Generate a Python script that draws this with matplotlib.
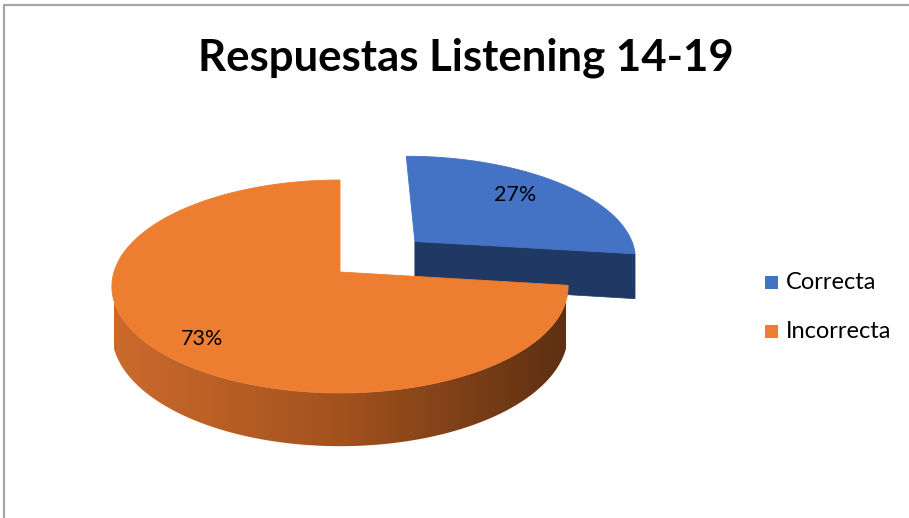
import numpy as np
import matplotlib
matplotlib.use("Agg")
import matplotlib.pyplot as plt
from matplotlib.patches import Polygon, Rectangle
from matplotlib.colors import LinearSegmentedColormap

# ---- data ----
title = "Respuestas Listening 14-19"
categories = ["Correcta", "Incorrecta"]
values = [27, 73]
top_colors = ["#4472C4", "#ED7D31"]
explode = [0.46, 0.0]
label_r = [0.68, 0.80]
label_shift = [(0, -6), (8, 7)]

# ---- layout (pixels) ----
W, H = 909, 518
cx, cy = 340.0, 272.0
rx, ry = 226.0, 104.5
k = 0.136        # perspective factor
depth = 46.0

fig = plt.figure(figsize=(W / 100, H / 100), dpi=100)
ax = fig.add_axes([0, 0, 1, 1])
ax.set_xlim(0, W)
ax.set_ylim(H, 0)
ax.axis("off")

# frame
ax.plot([4, 4, W + 5], [H + 5, 5, 5], color="#A6A6A6", lw=1.6, solid_capstyle="butt")


def proj(X, Y, Z=0.0):
    X = np.asarray(X, float)
    Y = np.asarray(Y, float)
    s = 1.0 / (1.0 + k * Y)
    return cx + rx * X * s, cy - ry * Y * s + depth * Z * s


total = float(sum(values))
start = 90.0
slices = []
for i, v in enumerate(values):
    a0 = start
    a1 = start - 360.0 * v / total
    mid = np.radians((a0 + a1) / 2)
    ox, oy = explode[i] * np.cos(mid), explode[i] * np.sin(mid)
    slices.append((i, a0, a1, mid, ox, oy))
    start = a1

# draw back slices first
slices.sort(key=lambda s: -s[5])

rim_cmaps = {
    0: LinearSegmentedColormap.from_list("b", ["#2F528F", "#223F73"]),
    1: LinearSegmentedColormap.from_list("o", ["#CC6A2C", "#A3521E", "#5E3012"]),
}

for i, a0, a1, mid, ox, oy in slices:
    th = np.radians(np.linspace(a0, a1, 400))
    # radial faces
    for a, sign in ((a1, -1), (a0, +1)):
        ar = np.radians(a)
        nrm = ar + sign * np.pi / 2
        if np.sin(nrm) < -1e-6:
            Xs = [ox, ox + np.cos(ar), ox + np.cos(ar), ox]
            Ys = [oy, oy + np.sin(ar), oy + np.sin(ar), oy]
            px, py = proj(Xs, Ys, np.array([0, 0, 1, 1]))
            col = "#1F3864" if i == 0 else "#8A4518"
            ax.add_patch(Polygon(np.c_[px, py], closed=True, fc=col, ec=col, lw=0.5))
    # rim (front-facing part) with horizontal gradient
    vis = np.sin(th) < 0
    tv = th[vis]
    if len(tv) > 1:
        tx, ty = proj(ox + np.cos(tv), oy + np.sin(tv), 0.0)
        bx, by = proj(ox + np.cos(tv), oy + np.sin(tv), 1.0)
        pts = np.r_[np.c_[tx, ty], np.c_[bx, by][::-1]]
        poly = Polygon(pts, closed=True, fc="none", ec="none")
        ax.add_patch(poly)
        fx, _ = proj(ox + np.array([-1.0, 1.0]), oy + np.array([0.0, 0.0]))
        x0, x1 = fx.min(), fx.max()
        y0, y1 = pts[:, 1].min() - 2, pts[:, 1].max() + 2
        grad = np.linspace(0, 1, 256)[None, :]
        im = ax.imshow(grad, cmap=rim_cmaps[i], extent=(x0, x1, y1, y0),
                       aspect="auto", interpolation="bilinear", zorder=poly.get_zorder())
        im.set_clip_path(poly)
        ax.set_xlim(0, W)
        ax.set_ylim(H, 0)
    # top face
    Xs = np.r_[ox, ox + np.cos(th)]
    Ys = np.r_[oy, oy + np.sin(th)]
    px, py = proj(Xs, Ys)
    ax.add_patch(Polygon(np.c_[px, py], closed=True, fc=top_colors[i], ec=top_colors[i],
                         lw=0.6, zorder=1.5))
    # label
    lx, ly = proj(ox + label_r[i] * np.cos(mid), oy + label_r[i] * np.sin(mid))
    ax.text(lx + label_shift[i][0], ly + label_shift[i][1],
            f"{round(100 * values[i] / total)}%", ha="center", va="center",
            fontsize=15.5, family="Lato", color="black", zorder=5)

# title
ax.text(466, 58, title, ha="center", va="center", fontsize=31.5, fontweight="bold",
        family="Lato", color="black")

# legend
for i, cat in enumerate(categories):
    y = 282.5 + i * 49
    ax.add_patch(Rectangle((765, y - 6.5), 13, 13, fc=top_colors[i], ec="none"))
    ax.text(786, y, cat, ha="left", va="center", fontsize=17, family="Lato", color="black")

fig.savefig("out.png", dpi=100)
